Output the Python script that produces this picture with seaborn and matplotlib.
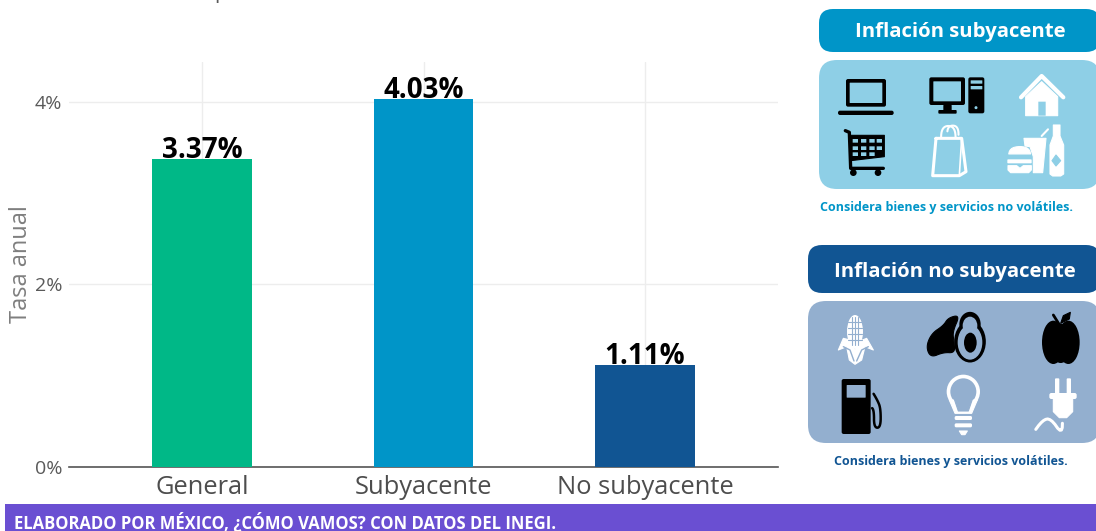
import pandas as pd
import seaborn as sns
import matplotlib.pyplot as plt
from matplotlib.patches import FancyBboxPatch, Rectangle, Polygon, Ellipse

categorias = ["General", "Subyacente", "No subyacente"]
valores = [3.37, 4.03, 1.11]
colores = ["#00B887", "#0095C8", "#115593"]
y_ticks = [0, 2, 4]
y_labels = ["0%", "2%", "4%"]

AZUL = "#0095C8"
AZUL_CLARO = "#8ECFE6"
MARINO = "#115593"
MARINO_CLARO = "#93AFCF"

sns.set_theme(style="whitegrid")
plt.rcParams["font.family"] = ["Open Sans", "DejaVu Sans"]

df = pd.DataFrame({"tipo": categorias, "tasa": valores})

fig = plt.figure(figsize=(10.96, 5.31), dpi=100, facecolor="white")
ax = fig.add_axes([69 / 1096, 64.5 / 531, 709 / 1096, 404.5 / 531])

sns.barplot(data=df, x="tipo", y="tasa", hue="tipo", palette=colores, width=0.45,
            saturation=1, legend=False, ax=ax, zorder=3, linewidth=0)

ax.set_xlim(-0.6, 2.6)
ax.set_ylim(0, 4.44)
ax.set_yticks(y_ticks)
ax.set_yticklabels(y_labels)
ax.set_xlabel("")
ax.set_ylabel("Tasa anual", fontsize=17, color="#7f7f7f", labelpad=1)
ax.grid(True, color="#EDEDED", lw=1)
ax.set_axisbelow(True)
ax.tick_params(axis="x", length=0, labelsize=18.4, labelcolor="#4d4d4d", pad=6)
ax.tick_params(axis="y", length=0, labelsize=14, labelcolor="#5a5a5a", pad=5)
for lado in ["top", "left", "right"]:
    ax.spines[lado].set_visible(False)
ax.spines["bottom"].set_color("#555555")
ax.spines["bottom"].set_linewidth(1.2)

for cont in ax.containers:
    ax.bar_label(cont, fmt="%.2f%%", fontsize=20, fontweight="bold", color="black", padding=-4)

# capa en pixeles para paneles e iconos
ov = fig.add_axes([0, 0, 1, 1], zorder=5)
ov.set_xlim(0, 1096)
ov.set_ylim(531, 0)
ov.axis("off")
ov.patch.set_alpha(0)


def caja(x0, y0, x1, y1, color, r=14):
    ov.add_patch(FancyBboxPatch((x0, y0), x1 - x0, y1 - y0, boxstyle=f"round,pad=0,rounding_size={r}",
                                fc=color, ec="none"))


def z(pts, oy):
    return [(800 + x / 3, oy + y / 3) for x, y in pts]


def suave(pts, cerrado=True, n=3):
    # recorte de esquinas para curvas simples
    for _ in range(n):
        nuevo = []
        total = len(pts) if cerrado else len(pts) - 1
        for i in range(total):
            a, b = pts[i], pts[(i + 1) % len(pts)]
            nuevo.append((0.75 * a[0] + 0.25 * b[0], 0.75 * a[1] + 0.25 * b[1]))
            nuevo.append((0.25 * a[0] + 0.75 * b[0], 0.25 * a[1] + 0.75 * b[1]))
        pts = nuevo
    return pts


def poly(pts, oy, color):
    ov.add_patch(Polygon(z(pts, oy), closed=True, fc=color, ec=color, lw=0.8, joinstyle="round"))


def traza(pts, oy, color, lw=2):
    xy = z(pts, oy)
    ov.plot([p[0] for p in xy], [p[1] for p in xy], color=color, lw=lw,
            solid_capstyle="round", solid_joinstyle="round")


def rect(x0, y0, x1, y1, oy, color, r=1.0):
    a = z([(x0, y0), (x1, y1)], oy)
    ov.add_patch(FancyBboxPatch(a[0], a[1][0] - a[0][0], a[1][1] - a[0][1],
                                boxstyle=f"round,pad=0,rounding_size={r}", fc=color, ec="none"))


def elipse(cx, cy, w, h, oy, color, ang=0):
    c = z([(cx, cy)], oy)[0]
    ov.add_patch(Ellipse(c, w / 3, h / 3, angle=ang, fc=color, ec="none"))


# paneles
caja(819, 9, 1100, 52, AZUL)
caja(819, 60, 1100, 189, AZUL_CLARO, r=18)
caja(808, 245, 1100, 293, MARINO)
caja(808, 301, 1100, 443, MARINO_CLARO, r=18)

ov.text(960, 32.5, "Inflación subyacente", color="white", fontsize=14.7, fontweight="bold",
        ha="center", va="center")
ov.text(955, 271.5, "Inflación no subyacente", color="white", fontsize=14.7, fontweight="bold",
        ha="center", va="center")
ov.text(947, 207.5, "Considera bienes y servicios no volátiles.", color=AZUL, fontsize=9.0,
        fontweight="bold", ha="center", va="center")
ov.text(951, 461.5, "Considera bienes y servicios volátiles.", color=MARINO, fontsize=9.0,
        fontweight="bold", ha="center", va="center")

# laptop
rect(138, 237, 258, 320, 0, "black", 2)
rect(149, 248, 247, 309, 0, AZUL_CLARO, 0.5)
rect(114, 332, 281, 345, 0, "black", 2)
# computadora
rect(388, 232, 495, 315, 0, "black", 2)
rect(400, 244, 483, 304, 0, AZUL_CLARO, 0.5)
rect(430, 315, 455, 332, 0, "black", 0.5)
rect(415, 330, 470, 341, 0, "black", 1)
rect(505, 232, 553, 340, 0, "black", 2)
rect(512, 241, 547, 251, 0, AZUL_CLARO, 0.3)
rect(512, 258, 547, 268, 0, AZUL_CLARO, 0.3)
elipse(528, 323, 9, 9, 0, AZUL_CLARO)
# casa
traza([(663, 292), (725, 228), (790, 292)], 0, "white", 3)
poly([(725, 245), (773, 290), (773, 347), (677, 347), (677, 290)], 0, "white")
rect(715, 305, 737, 347, 0, AZUL_CLARO, 0.1)
# carrito
traza([(136, 392), (148, 397), (152, 505), (250, 505)], 0, "black", 2.4)
poly([(150, 406), (253, 406), (253, 470), (152, 482)], 0, "black")
for cx in [166, 191, 216, 238]:
    for cy in [423, 445, 463]:
        if cy == 463 and cx == 238:
            continue
        rect(cx - 8, cy - 6, cx + 8, cy + 5, 0, AZUL_CLARO, 0.2)
elipse(160, 518, 20, 20, 0, "black")
elipse(234, 518, 20, 20, 0, "black")
# bolsa
traza([(408, 415), (485, 415), (498, 515), (478, 527), (398, 527), (408, 415)], 0, "white", 2.2)
traza([(478, 527), (485, 415)], 0, "white", 1.2)
traza(suave([(422, 436), (425, 378), (465, 378), (468, 436)], False), 0, "white", 1.5)
traza(suave([(440, 408), (445, 376), (475, 378), (476, 425)], False), 0, "white", 1.5)
# hamburguesa, vaso y botella
poly(suave([(624, 472), (630, 445), (660, 438), (688, 445), (694, 472)], False, 2), 0, "white")
rect(622, 478, 695, 490, 0, "white", 0.8)
poly([(624, 497), (650, 497), (660, 505), (670, 497), (694, 497), (694, 510), (686, 518), (632, 518), (624, 510)], 0, "white")
poly([(672, 415), (738, 415), (728, 518), (700, 518), (700, 470), (690, 440), (675, 438)], 0, "white")
traza([(725, 408), (744, 388)], 0, "white", 1.5)
poly([(760, 375), (780, 375), (780, 408), (791, 435), (791, 522), (782, 528), (758, 528), (750, 522), (750, 435), (760, 408)], 0, "white")
poly([(768, 465), (782, 482), (768, 498), (756, 482)], 0, AZUL_CLARO)

# elote
elipse(165, 290, 48, 100, 235, "white")
for yy in [262, 280, 298, 316]:
    traza([(145, yy), (185, yy)], 235, MARINO_CLARO, 0.8)
for xx in [155, 165, 175]:
    traza([(xx, 245), (xx, 330)], 235, MARINO_CLARO, 0.8)
poly([(115, 345), (130, 310), (150, 315), (165, 345), (175, 320), (200, 310), (220, 345), (195, 335),
      (185, 375), (165, 388), (148, 375), (140, 335)], 235, "white")
traza([(130, 335), (150, 345), (162, 378)], 235, MARINO_CLARO, 1)
traza([(205, 335), (185, 345), (170, 378)], 235, MARINO_CLARO, 1)
# aguacate
poly(suave([(480, 240), (445, 248), (430, 272), (395, 295), (378, 335), (392, 368), (430, 352), (465, 354),
            (462, 320), (458, 290)]), 235, "black")
elipse(510, 320, 95, 125, 235, "black")
elipse(510, 268, 64, 75, 235, "black")
elipse(510, 322, 74, 104, 235, MARINO_CLARO)
elipse(510, 272, 44, 54, 235, MARINO_CLARO)
elipse(511, 323, 38, 60, 235, "black")
# manzana
elipse(760, 322, 68, 130, 235, "black")
elipse(805, 322, 68, 130, 235, "black")
elipse(782, 325, 70, 118, 235, "black")
traza([(760, 240), (780, 272)], 235, "black", 2)
poly([(782, 265), (790, 242), (811, 232), (808, 252)], 235, "black")
# bomba de gasolina
rect(125, 432, 212, 597, 235, "black", 2)
rect(140, 450, 197, 488, 235, MARINO_CLARO, 0.5)
traza(suave([(212, 462), (232, 495), (242, 520), (242, 578), (222, 578), (222, 525), (212, 515)], False), 235, "black", 1.8)
# foco
elipse(490, 470, 100, 102, 235, "white")
elipse(490, 470, 78, 80, 235, MARINO_CLARO)
poly([(448, 495), (532, 495), (515, 535), (465, 535)], 235, "white")
poly([(462, 490), (518, 490), (505, 528), (475, 528)], 235, MARINO_CLARO)
rect(464, 543, 516, 555, 235, "white", 1.5)
rect(464, 565, 516, 577, 235, "white", 1.5)
poly([(478, 588), (502, 588), (495, 599), (485, 599)], 235, "white")
# enchufe
rect(765, 430, 778, 478, 235, "white", 1)
rect(800, 430, 813, 478, 235, "white", 1)
rect(748, 474, 830, 492, 235, "white", 2)
poly([(760, 490), (818, 490), (818, 530), (800, 548), (778, 548), (760, 530)], 235, "white")
traza(suave([(788, 545), (786, 598), (752, 550), (728, 555), (695, 600)], False, 2), 235, "white", 2.2)

# pie
ov.add_patch(Rectangle((5, 504), 1095, 30, fc="#6A4FD2", ec="none"))
ov.text(14, 522.5, "ELABORADO POR MÉXICO, ¿CÓMO VAMOS? CON DATOS DEL INEGI.", color="white",
        fontsize=12, fontweight="bold", ha="left", va="center")

# titulo cortado por el borde superior
fig.text(214 / 1096, 1 + 2 / 531, "p", fontsize=15, color="#5a5a5a", ha="left", va="baseline")

fig.savefig("out.png", dpi=100)
plt.close(fig)
